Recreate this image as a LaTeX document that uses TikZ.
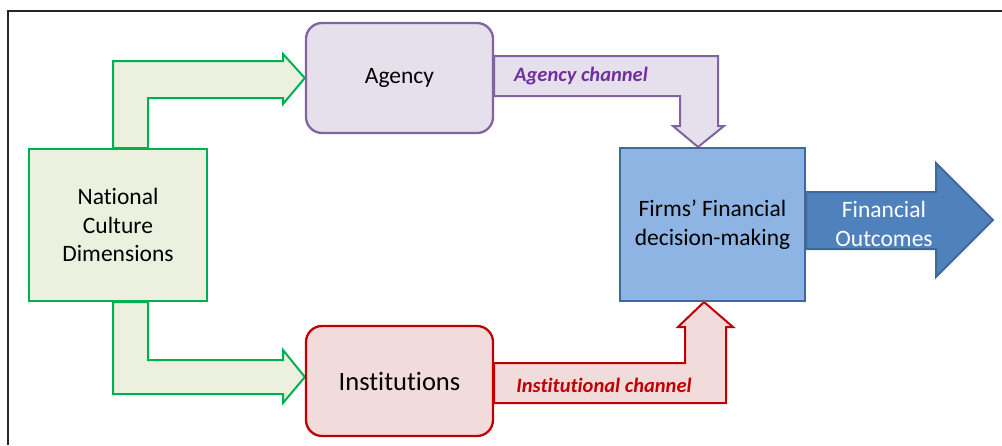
\documentclass[tikz,border=0pt]{standalone}
\usepackage{fontspec}
\setmainfont{Carlito}[Ligatures={NoCommon,NoContextual}]
\usetikzlibrary{backgrounds}

\definecolor{cultureline}{HTML}{00B050}
\definecolor{culturefill}{HTML}{EBF1DE}
\definecolor{agencyline}{HTML}{8064A2}
\definecolor{agencyfill}{HTML}{E5E0EC}
\definecolor{agencytext}{HTML}{7030A0}
\definecolor{instline}{HTML}{C00000}
\definecolor{instfill}{HTML}{F2DCDB}
\definecolor{firmsline}{HTML}{41689A}
\definecolor{firmsfill}{HTML}{8EB4E3}
\definecolor{outcomefill}{HTML}{4F81BD}

\tikzset{
  box/.style={draw, line width=2pt, align=center, inner sep=0pt,
    font=\fontsize{23.5}{28.5}\selectfont},
  roundbox/.style={box, rounded corners=16pt, line width=2.3pt,
    minimum width=187pt, minimum height=110pt},
  blockarrow/.style={line width=2pt, line join=miter},
  chanlabel/.style={inner sep=0pt, font=\fontsize{20.5}{24}\selectfont\bfseries\itshape}
}

\begin{document}
\begin{tikzpicture}[x=1pt,y=-1pt]
\useasboundingbox (0,0) rectangle (1002,445);

% Frame
\draw[line width=1.5pt, black!85] (8,445) |- (1002,11);

% Boxes
\node[box, draw=cultureline, fill=culturefill, minimum width=178pt, minimum height=152pt]
  (culture) at (118,225) {National\\Culture\\Dimensions};
\node[roundbox, draw=agencyline, fill=agencyfill] (agency) at (399.5,78) {Agency};
\node[roundbox, draw=instline, fill=instfill, font=\fontsize{26.5}{30}\selectfont]
  (inst) at (399.5,381) {Institutions};
\node[box, draw=firmsline, fill=firmsfill, minimum width=185pt, minimum height=153pt]
  (firms) at (712.5,224.5) {Firms’ Financial\\decision-making};

% Block arrows behind the boxes
\begin{scope}[on background layer]
\draw[blockarrow, draw=cultureline, fill=culturefill]
  ([xshift=-5pt]culture.north) -- (113,61) -- (283,61) -- (283,54) -- (agency.west)
  -- (283,104) -- (283,98) -- (148,98) -- ([xshift=30pt]culture.north) -- cycle;
\draw[blockarrow, draw=cultureline, fill=culturefill]
  ([xshift=-5pt]culture.south) -- (113,394) -- (283,394) -- (283,403) -- ([yshift=4pt]inst.west)
  -- (283,350) -- (283,360) -- (148,360) -- ([xshift=30pt]culture.south) -- cycle;
\draw[blockarrow, draw=agencyline, fill=agencyfill]
  ([yshift=22pt]agency.east) -- (718,56) -- (718,126) -- (724,126) -- ([xshift=-14.5pt]firms.north)
  -- (673,126) -- (680,126) -- (680,96) -- ([yshift=-18pt]agency.east) -- cycle;
\draw[blockarrow, draw=instline, fill=instfill]
  ([yshift=18pt]inst.east) -- (685,363) -- (685,327) -- (678,327) -- ([xshift=-8.5pt]firms.south)
  -- (733,327) -- (726,327) -- (726,403) -- ([yshift=-22pt]inst.east) -- cycle;
\draw[blockarrow, draw=firmsline, fill=outcomefill]
  ([yshift=32.5pt]firms.east) -- (936,192) -- (936,163) -- (993,220) -- (936,277)
  -- (936,249) -- ([yshift=-24.5pt]firms.east) -- cycle;
\end{scope}

% Labels
\node[chanlabel, text=agencytext] (agencylbl) at (581,76) {Agency channel};
\node[chanlabel, text=instline] (instlbl) at (604,385) {Institutional channel};
\node[box, draw=none, text=white] (outcome) at (884,224) {Financial\\Outcomes};
\end{tikzpicture}
\end{document}
